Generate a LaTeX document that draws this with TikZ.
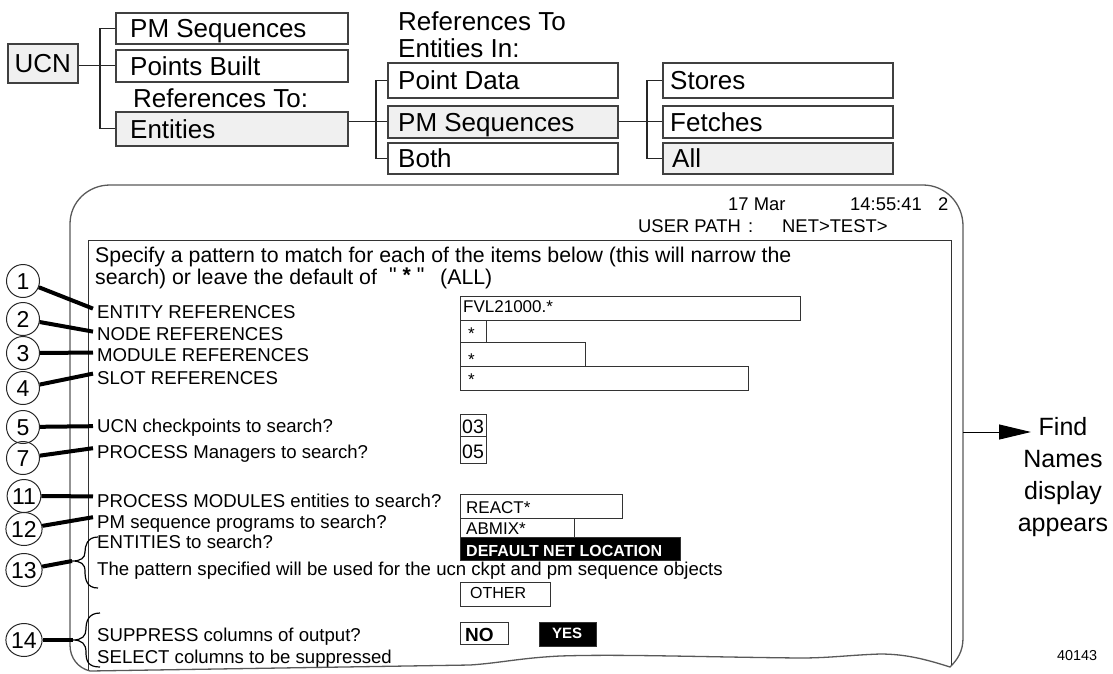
\documentclass[tikz,border=0pt]{standalone}
\usepackage{fontspec}
\setmainfont{Liberation Sans}
\newfontfamily\qfont{Liberation Sans}[Ligatures=TeXOff]
\usetikzlibrary{arrows.meta,shapes.geometric}
\newcommand\fsz[1]{\fontsize{#1}{#1}\selectfont}
\begin{document}
\begin{tikzpicture}[x=1pt,y=-1pt,
  tbox/.style={draw=black!75, line width=1.5pt, anchor=north west, inner sep=0pt},
  gfill/.style={fill=black!6},
  ttext/.style={anchor=west, inner sep=0pt, font=\fsz{26}, text height=18.6pt, text depth=0pt},
  tlab/.style={anchor=base west, inner sep=0pt, font=\fsz{26}},
  conn/.style={draw=black!85, line width=1.2pt},
  frame/.style={draw=black!65, line width=1.3pt},
  scr/.style={draw=black!80, line width=1pt},
  hdr/.style={anchor=base west, inner sep=0pt, font=\fsz{18.4}},
  intro/.style={anchor=base west, inner sep=0pt, font=\fsz{21.3}},
  lab/.style={anchor=base west, inner xsep=4pt, inner ysep=0pt, font=\fsz{18.6}},
  fbox/.style={draw=black!80, line width=1pt, anchor=north west, inner sep=0pt},
  ftext/.style={anchor=base west, inner sep=0pt, font=\fsz{17}},
  circ/.style={draw=black!85, line width=1pt, ellipse, inner sep=0pt, minimum width=33pt, minimum height=33pt, font=\fsz{23}, text height=16.5pt, text depth=0pt},
  lead/.style={line width=4pt},
  brace/.style={draw=black, line width=1.2pt}
]
\useasboundingbox (0,0) rectangle (1113,673);

% ---------- top menu tree ----------
\node[tbox, gfill, minimum width=70pt, minimum height=39pt, font=\fsz{26}, text height=18.6pt, text depth=0pt] (ucn) at (7,43) {UCN};
\node[tbox, minimum width=232pt, minimum height=31pt] (pm1) at (115,12) {};
\node[tbox, minimum width=232pt, minimum height=32pt] (pb) at (115,49) {};
\node[tbox, gfill, minimum width=232pt, minimum height=34pt] (ent) at (115,111) {};
\node[ttext] (tpm1) at ([xshift=15pt]pm1.west) {PM Sequences};
\node[ttext] (tpb) at ([xshift=15pt]pb.west) {Points Built};
\node[ttext] (tent) at ([xshift=15pt]ent.west) {Entities};
\node[tlab] (refto) at (133,107) {References To:};

\node[tbox, minimum width=230pt, minimum height=35pt] (pd) at (387,62) {};
\node[tbox, gfill, minimum width=230pt, minimum height=32pt] (pms) at (387,105) {};
\node[tbox, minimum width=230pt, minimum height=31pt] (both) at (387,142) {};
\node[ttext] (tpd) at ([xshift=11pt]pd.west) {Point Data};
\node[ttext] (tpms) at ([xshift=11pt]pms.west) {PM Sequences};
\node[ttext] (tboth) at ([xshift=11pt]both.west) {Both};
\node[tlab] (refa) at (398,30) {References To};
\node[tlab] (refb) at (398,57) {Entities In:};

\node[tbox, minimum width=230pt, minimum height=35pt] (st) at (662,62) {};
\node[tbox, minimum width=230pt, minimum height=32pt] (fe) at (662,105) {};
\node[tbox, gfill, minimum width=230pt, minimum height=31pt] (al) at (662,142) {};
\node[ttext] (tst) at ([xshift=8pt]st.west) {Stores};
\node[ttext] (tfe) at ([xshift=8pt]fe.west) {Fetches};
\node[ttext] (tal) at ([xshift=10pt]al.west) {All};

\draw[conn] (ucn.east |- pb.west) -- (pb.west);
\draw[conn] (pm1.west) -- ++(-15,0) |- (ent.west);
\draw[conn] (ent.east |- pms.west) -- (pms.west);
\draw[conn] (pd.west) -- ++(-11,0) |- (both.west);
\draw[conn] (pms.east) -- (fe.west);
\draw[conn] (st.west) -- ++(-15,0) |- (al.west);

% ---------- screen frame ----------
\draw[frame] (70,645) -- (70,224) .. controls (70,202) and (88,185) .. (110,185)
  -- (923,185) .. controls (945,185) and (963,203) .. (963,226)
  -- (963,638) .. controls (963,652) and (957,660) .. (950,667)
  .. controls (925,659) and (905,654) .. (880,654)
  .. controls (850,655) and (830,658) .. (800,658)
  .. controls (700,657) and (620,654) .. (560,656)
  .. controls (520,658) and (500,663) .. (470,665)
  -- (90,671) .. controls (78,668) and (70,658) .. (70,645) -- cycle;
\draw[scr] (88,670) -- (88,240) -- (951,240) -- (951,665);

% header
\node[hdr] (h1) at (728,210) {17 Mar};
\node[hdr] (h2) at (850,210) {14:55:41};
\node[hdr] (h3) at (938,210) {2};
\node[hdr] (h4) at (638,232) {USER PATH};
\node[hdr] (h5) at (748,232) {:};
\node[hdr] (h6) at (782,232) {NET>TEST>};

% intro
\node[intro] (sp1) at (95,262) {Specify a pattern to match for each of the items below (this will narrow the};
\node[intro] (sp2) at (95,284) {search) or leave the default of};
\node[intro] (sp3) at (389,282) {{\qfont "}\ \textbf{*}\ {\qfont "}};
\node[intro] (sp4) at (440,284) {(ALL)};

% labels
\node[lab] (l1) at (93,318) {ENTITY REFERENCES};
\node[lab] (l2) at (93,340) {NODE REFERENCES};
\node[lab] (l3) at (93,361) {MODULE REFERENCES};
\node[lab] (l4) at (93,384) {SLOT REFERENCES};
\node[lab] (l5) at (93,432) {UCN checkpoints to search?};
\node[lab] (l7) at (93,458) {PROCESS Managers to search?};
\node[lab] (l11) at (93,507) {PROCESS MODULES entities to search?};
\node[lab] (l12) at (93,528) {PM sequence programs to search?};
\node[lab] (l13a) at (93,548) {ENTITIES to search?};
\node[lab] (l13b) at (93,575) {The pattern specified will be used for the ucn ckpt and pm sequence objects};
\node[lab] (l14a) at (93,641) {SUPPRESS columns of output?};
\node[lab] (l14b) at (93,663) {SELECT columns to be suppressed};

% fields
\node[fbox, minimum width=340pt, minimum height=24pt] (fvl) at (460,296) {};
\node[fbox, minimum width=26pt, minimum height=22pt] (fnode) at (460,320) {};
\node[fbox, minimum width=125pt, minimum height=24pt] (fmod) at (460,342) {};
\node[fbox, minimum width=288pt, minimum height=24pt] (fslot) at (460,366) {};
\node[fbox, minimum width=26pt, minimum height=22pt] (f03) at (460,414) {};
\node[fbox, minimum width=26pt, minimum height=27pt] (f05) at (460,436) {};
\node[fbox, minimum width=162pt, minimum height=24pt] (freact) at (460,494) {};
\node[fbox, minimum width=114pt, minimum height=19pt] (fabmix) at (460,518) {};
\node[fbox, fill=black, minimum width=220pt, minimum height=23pt] (fdnl) at (460,537) {};
\node[fbox, minimum width=90pt, minimum height=24pt] (fother) at (460,582) {};
\node[fbox, line width=1.4pt, minimum width=48pt, minimum height=22pt] (fno) at (460,622) {};
\node[fbox, fill=black, minimum width=57pt, minimum height=24pt] (fyes) at (539,622) {};

\node[ftext] (tfvl) at (463,312) {FVL21000.*};
\node[ftext] (tnode) at (468,339) {*};
\node[ftext] (tmod) at (468,365) {*};
\node[ftext] (tslot) at (468,385) {*};
\node[ftext, font=\fsz{19.5}] (t03) at (462,433) {03};
\node[ftext, font=\fsz{19.5}] (t05) at (462,458) {05};
\node[ftext] (treact) at (466,513) {REACT*};
\node[ftext] (tabmix) at (466,534) {ABMIX*};
\node[ftext, font=\bfseries\fsz{16}, text=white] (tdnl) at (466,556) {DEFAULT NET LOCATION};
\node[ftext, font=\fsz{16}] (tother) at (470,598) {OTHER};
\node[ftext, font=\bfseries\fsz{19}] (tno) at (465,641) {NO};
\node[ftext, font=\bfseries\fsz{15}, text=white] (tyes) at (552,638) {YES};

% callout circles
\node[circ] (c1) at (23,281) {1};
\node[circ] (c2) at (23,319) {2};
\node[circ] (c3) at (23,353) {3};
\node[circ] (c4) at (23,388) {4};
\node[circ] (c5) at (23,427) {5};
\node[circ] (c7) at (23,458) {7};
\node[circ] (c11) at (24,496) {11};
\node[circ] (c12) at (24,529) {12};
\node[circ] (c13) at (24,570) {13};
\node[circ] (c14) at (24,640) {14};

\draw[lead] (c1) -- ([yshift=3pt]l1.west);
\draw[lead] (c2) -- ([yshift=2pt]l2.west);
\draw[lead] (c3) -- ([yshift=2pt]l3.west);
\draw[lead] (c4) -- ([yshift=4pt]l4.west);
\draw[lead] (c5) -- ([yshift=1pt]l5.west);
\draw[lead] (c7) -- ([yshift=5pt]l7.west);
\draw[lead] (c11) -- ([yshift=4pt]l11.west);
\draw[lead] (c12) -- ([yshift=6pt]l12.west);

% braces
\coordinate (b13) at (72,561);
\coordinate (b14) at (73,640);
\draw[brace] (98,537) .. controls (87,537) and (85,546) .. (85,552)
  .. controls (85,558) and (81,561) .. (b13)
  .. controls (81,561) and (85,564) .. (85,571)
  .. controls (85,580) and (87,588) .. (98,588);
\draw[brace] (100,613) .. controls (88,613) and (86,622) .. (86,629)
  .. controls (86,636) and (82,640) .. (b14)
  .. controls (82,640) and (86,644) .. (86,652)
  .. controls (86,661) and (88,667) .. (100,667);
\draw[lead] (c13) -- (b13);
\draw[lead] (c14) -- (b14);

% result arrow
\coordinate (fr) at (963,432);
\coordinate (ftip) at (1031,432);
\draw[line width=1pt, -{Triangle[length=32pt,width=15pt]}] (fr) -- (ftip);
\node[anchor=north, align=center, inner sep=0pt, font=\fontsize{25}{32}\selectfont] (find) at (1063,417) {Find\\Names\\display\\appears};

\node[anchor=base west, inner sep=0pt, font=\fsz{14.4}] (num) at (1057,660) {40143};
\end{tikzpicture}
\end{document}
